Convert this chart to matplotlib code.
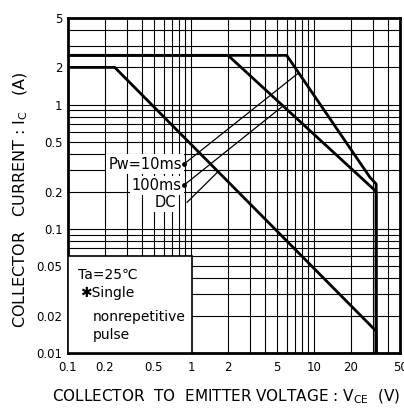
import numpy as np
import matplotlib
matplotlib.use("Agg")
import matplotlib.pyplot as plt
from matplotlib.ticker import LogLocator, FixedLocator, NullFormatter
from matplotlib.patches import Rectangle

plt.rcParams['font.family'] = ['DejaVu Sans']

# safe operating area curves (VCE in V, IC in A)
v_10ms = [0.1, 6.0, 28.5, 32, 32]
i_10ms = [2.5, 2.5, 0.26, 0.23, 0.01]
v_100ms = [0.1, 2.0, 32, 32]
i_100ms = [2.5, 2.5, 0.2, 0.01]
v_dc = [0.1, 0.24, 32, 32]
i_dc = [2.0, 2.0, 0.015, 0.01]

x_ticks = [0.1, 0.2, 0.5, 1, 2, 5, 10, 20, 50]
x_labels = ["0.1", "0.2", "0.5", "1", "2", "5", "10", "20", "50"]
y_ticks = [0.01, 0.02, 0.05, 0.1, 0.2, 0.5, 1, 2, 5]
y_labels = ["0.01", "0.02", "0.05", "0.1", "0.2", "0.5", "1", "2", "5"]


def on_curve(v, vs, cs):
    # current on a curve at voltage v (interpolated on log axes, sloped part)
    lv = np.log10(vs[:-1])
    lc = np.log10(cs[:-1])
    return 10 ** np.interp(np.log10(v), lv, lc)


fig = plt.figure(figsize=(4.04, 4.09), dpi=100)
ax = fig.add_axes([68 / 404, 1 - 353 / 409, 332 / 404, 335 / 409])
ax.set_xscale('log')
ax.set_yscale('log')
ax.set_xlim(0.1, 50)
ax.set_ylim(0.01, 5)

ax.xaxis.set_major_locator(FixedLocator(x_ticks))
ax.set_xticklabels(x_labels)
ax.yaxis.set_major_locator(FixedLocator(y_ticks))
ax.set_yticklabels(y_labels)
ax.xaxis.set_minor_locator(LogLocator(base=10, subs=np.arange(1, 10)))
ax.yaxis.set_minor_locator(LogLocator(base=10, subs=np.arange(1, 10)))
ax.xaxis.set_minor_formatter(NullFormatter())
ax.yaxis.set_minor_formatter(NullFormatter())
ax.grid(True, which='both', color='black', linewidth=0.8, zorder=1)
ax.tick_params(which='both', length=0, labelsize=8.5)
ax.tick_params(axis='x', pad=6)
ax.tick_params(axis='y', pad=4)
for s in ax.spines.values():
    s.set_linewidth(2)

ax.plot(v_10ms, i_10ms, color='black', lw=2, zorder=3)
ax.plot(v_100ms, i_100ms, color='black', lw=2, zorder=3)
ax.plot(v_dc, i_dc, color='black', lw=2, zorder=3)

# labels with thin leader lines
box = dict(facecolor='white', edgecolor='none', pad=1.5)
ax.text(0.84, 0.333, "Pw=10ms", ha='right', va='center', fontsize=10.5, bbox=box, zorder=4)
ax.text(0.84, 0.225, "100ms", ha='right', va='center', fontsize=10.5, bbox=box, zorder=4)
ax.text(0.76, 0.162, "DC", ha='right', va='center', fontsize=10.5, bbox=box, zorder=4)
ax.plot([0.877, 0.877], [0.333, 0.225], 'o', color='black', ms=2.5, zorder=5)
ax.plot([0.877, 7.5], [0.333, on_curve(7.5, v_10ms, i_10ms)], color='black', lw=0.9, zorder=4)
ax.plot([0.877, 5.6], [0.225, on_curve(5.6, v_100ms, i_100ms)], color='black', lw=0.9, zorder=4)
ax.plot([0.93, 1.66], [0.164, on_curve(1.66, v_dc, i_dc)], color='black', lw=0.9, zorder=4)

# condition box
ax.add_patch(Rectangle((0, 0), 0.373, 0.29, transform=ax.transAxes,
                       facecolor='white', edgecolor='black', lw=1.2, zorder=4))
ax.text(0.03, 0.232, "Ta=25℃", transform=ax.transAxes, fontsize=10, va='center', zorder=5)
ax.text(0.035, 0.18, "✱Single", transform=ax.transAxes, fontsize=10, va='center', zorder=5)
ax.text(0.075, 0.108, "nonrepetitive", transform=ax.transAxes, fontsize=10, va='center', zorder=5)
ax.text(0.075, 0.054, "pulse", transform=ax.transAxes, fontsize=10, va='center', zorder=5)

fig.text(226 / 404, 1 - 397 / 409, "COLLECTOR  TO  EMITTER VOLTAGE : V$_{\\rm CE}$  (V)",
         ha='center', va='center', fontsize=11)
fig.text(21 / 404, 1 - 200 / 409, "COLLECTOR   CURRENT : I$_{\\rm C}$   (A)",
         ha='center', va='center', rotation=90, fontsize=11.5)

fig.savefig("out.png", dpi=100)
